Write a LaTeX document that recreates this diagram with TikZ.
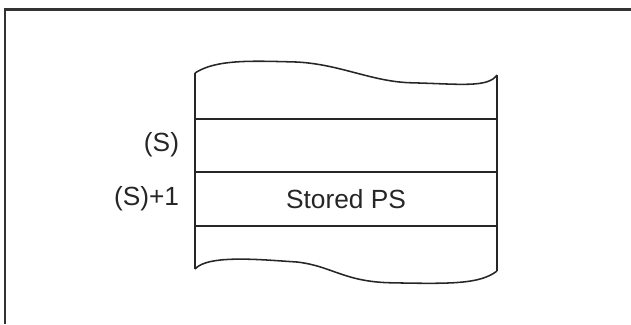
\documentclass[tikz,border=0pt]{standalone}
\usepackage{fontspec}
\setmainfont{Liberation Sans}
\begin{document}
\begin{tikzpicture}[every node/.style={font=\fontsize{18.7}{22}\selectfont, text=black!85}]

	% page size
	\useasboundingbox (0,0) rectangle (15.775,8.1);

	% open frame (top and left edges only)
	\draw[line width=1.5pt, black!80] (0.125,0) -- (0.125,7.8625) -- (15.775,7.8625);

	% --- stack corners ---
	\coordinate (tl) at (4.875,6.275);
	\coordinate (tr) at (12.425,6.225);
	\coordinate (bl) at (4.875,1.375);
	\coordinate (br) at (12.425,1.325);

	% torn top edge
	\draw[line width=1.1pt, black!85] (tl) .. controls (5.4,6.62) and (6.3,6.58) .. (7.4,6.55)
		.. controls (8.5,6.5) and (9.3,6.05) .. (10.3,6.03)
		.. controls (11.5,6.0) and (12.2,5.9) .. (tr);

	% torn bottom edge
	\draw[line width=1.1pt, black!85] (bl) .. controls (5.2,1.75) and (6.6,1.6) .. (7.425,1.55)
		.. controls (8.3,1.45) and (8.6,1.05) .. (9.8,1.03)
		.. controls (11.3,1.0) and (12.0,1.0) .. (br);

	% sides
	\draw[line width=1.1pt, black!85] (tl) -- (bl);
	\draw[line width=1.1pt, black!85] (tr) -- (br);

	% row dividers
	\foreach \y in {5.125,3.8,2.45}{
		\draw[line width=1.1pt, black!85] (4.875,\y) -- (12.425,\y);
	}

	% labels
	\node[anchor=east] (s)   at (4.6,4.475) {(S)};
	\node[anchor=east] (s1)  at (4.6,3.125) {(S)+1};
	\node              (ps)  at (8.65,3.125) {Stored PS};

\end{tikzpicture}
\end{document}
